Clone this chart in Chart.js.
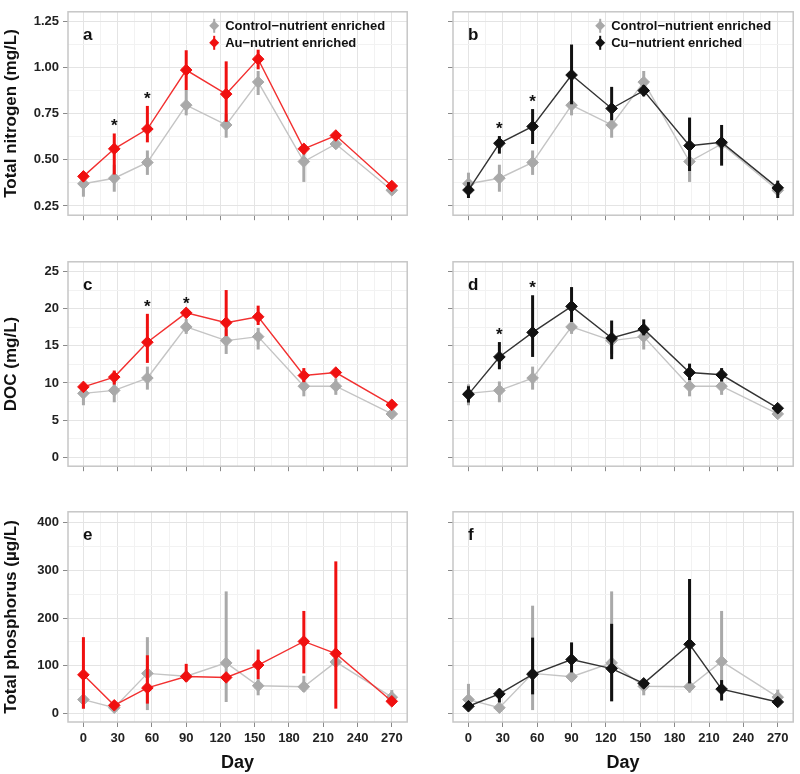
<!DOCTYPE html>
<html>
<head>
<meta charset="utf-8">
<script src="https://cdn.jsdelivr.net/npm/chart.js@4.4.0/dist/chart.umd.min.js"></script>
<style>
  body { margin: 0; background: #fff; }
  #wrap { position: relative; width: 800px; height: 774px; }
  canvas { position: absolute; }
</style>
</head>
<body>
<div id="wrap"></div>
<script>
// sampling days
const days = [0, 27, 56, 90, 125, 153, 193, 221, 270];
const dayTicks = [0, 30, 60, 90, 120, 150, 180, 210, 240, 270];

// total nitrogen (mg/L)
const ctrlN   = [0.37, 0.40, 0.485, 0.795, 0.688, 0.92, 0.49, 0.585, 0.335];
const ctrlNLo = [0.30, 0.327, 0.418, 0.74, 0.619, 0.85, 0.38, 0.56, 0.32];
const ctrlNHi = [0.43, 0.473, 0.55, 0.877, 0.748, 0.98, 0.56, 0.61, 0.35];
const auN     = [0.41, 0.559, 0.666, 0.985, 0.855, 1.044, 0.559, 0.631, 0.358];
const auNLo   = [0.40, 0.42, 0.594, 0.877, 0.705, 0.989, 0.53, 0.61, 0.345];
const auNHi   = [0.43, 0.642, 0.791, 1.092, 1.032, 1.095, 0.58, 0.65, 0.37];
const cuN     = [0.336, 0.589, 0.68, 0.958, 0.777, 0.874, 0.576, 0.594, 0.348];
const cuNLo   = [0.293, 0.533, 0.585, 0.80, 0.714, 0.843, 0.439, 0.468, 0.293];
const cuNHi   = [0.379, 0.628, 0.774, 1.123, 0.894, 0.903, 0.728, 0.688, 0.387];

// DOC (mg/L)
const ctrlDOC   = [8.6, 9.0, 10.66, 17.54, 15.7, 16.23, 9.56, 9.56, 5.83];
const ctrlDOCLo = [7.0, 7.4, 9.1, 16.6, 13.9, 14.5, 8.2, 8.4, 5.5];
const ctrlDOCHi = [9.8, 10.2, 12.2, 18.6, 17.2, 17.4, 10.7, 10.6, 6.2];
const auDOC     = [9.47, 10.79, 15.48, 19.43, 18.11, 18.9, 11.0, 11.4, 7.06];
const auDOCLo   = [9.1, 9.78, 12.7, 19.1, 16.3, 17.8, 10.1, 11.1, 6.8];
const auDOCHi   = [9.9, 11.67, 19.3, 19.7, 22.5, 20.4, 12.0, 11.7, 7.3];
const cuDOC     = [8.46, 13.5, 16.8, 20.3, 16.05, 17.24, 11.4, 11.1, 6.6];
const cuDOCLo   = [7.37, 11.84, 13.5, 18.2, 13.2, 16.4, 10.4, 10.2, 6.3];
const cuDOCHi   = [9.56, 15.5, 21.8, 22.9, 18.4, 18.55, 12.6, 12.0, 6.9];

// total phosphorus (µg/L)
const ctrlP    = [29, 12, 84, 78, 106, 58, 56, 108, 34];
const ctrlPLo  = [10, 8, 7, 72, 24, 38, 45, 103, 20];
const ctrlPHi  = [49, 16, 160, 84, 256, 72, 79, 120, 49];
const auP      = [81, 17, 53.5, 77.5, 75.5, 101.5, 151, 125.5, 25.4];
const auPLo    = [10, 12, 20.6, 67, 70, 72, 84, 10, 20];
const auPHi    = [160, 22, 122, 104, 81, 134, 215, 319, 30];
const ctrlPf   = [29, 12, 84, 77, 106, 57, 56, 109, 34];
const ctrlPfLo = [10, 8, 7, 70, 24, 38, 44, 45, 20];
const ctrlPfHi = [62, 16, 226, 85, 256, 72, 79, 215, 50];
const cuP      = [15, 41, 82, 113, 94, 63, 145, 51, 24];
const cuPLo    = [7, 23, 40, 86, 26, 55, 63, 27, 18];
const cuPHi    = [24, 51, 159, 149, 188, 70, 282, 70, 30];

const FONT = "'Liberation Sans', Arial, sans-serif";
const GRAY = "#a9a9a9", RED = "#f01010", BLACK = "#111111";

const toPts = (vals) => vals.map((v, i) => ({ x: days[i], y: v }));

function series(label, vals, lo, hi, kind) {
  const col = kind === "ctrl" ? GRAY : kind === "au" ? RED : BLACK;
  const line = kind === "ctrl" ? "#c4c4c4" : kind === "au" ? "#f23030" : "#333333";
  return {
    label, data: toPts(vals), lo, hi,
    barColor: col,
    borderColor: line, borderWidth: 1.4,
    backgroundColor: col, pointBackgroundColor: col, pointBorderColor: col,
    pointStyle: "rectRot", pointRadius: 5.8, pointBorderWidth: 1,
    tension: 0
  };
}

const isMajor = (v, step) => Math.abs(v / step - Math.round(v / step)) < 1e-6;
const range = (a, b, s) => { const r = []; for (let v = a; v <= b + 1e-9; v += s) r.push(+v.toFixed(4)); return r; };

const decor = {
  id: "decor",
  beforeDatasetDraw(chart, args) {
    const ds = chart.data.datasets[args.index];
    const { x, y } = chart.scales;
    const c = chart.ctx;
    c.save();
    c.strokeStyle = ds.barColor;
    c.lineWidth = 3;
    ds.data.forEach((p, i) => {
      const px = x.getPixelForValue(p.x);
      c.beginPath();
      c.moveTo(px, y.getPixelForValue(ds.lo[i]));
      c.lineTo(px, y.getPixelForValue(ds.hi[i]));
      c.stroke();
    });
    c.restore();
  },
  afterDraw(chart, args, opts) {
    const c = chart.ctx, a = chart.chartArea;
    const { x, y } = chart.scales;
    c.save();
    c.strokeStyle = "#c6c6c6";
    c.lineWidth = 1.5;
    c.strokeRect(a.left, a.top, a.right - a.left, a.bottom - a.top);
    c.fillStyle = "#111";
    c.font = "bold 17px " + FONT;
    c.textBaseline = "middle";
    c.fillText(opts.letter, a.left + 15, a.top + 24);
    // significance marks
    if (opts.stars) {
      const ds = chart.data.datasets[0];
      c.font = "bold 17px " + FONT;
      c.textAlign = "center";
      c.textBaseline = "alphabetic";
      opts.stars.forEach((d) => {
        const i = days.indexOf(d);
        c.fillText("*", x.getPixelForValue(d), y.getPixelForValue(ds.hi[i]) - 2);
      });
    }
    // legend
    if (opts.legend) {
      const lx = a.right - 193;
      const items = [chart.data.datasets[1], chart.data.datasets[0]];
      items.forEach((ds, k) => {
        const ly = a.top + 14 + k * 17;
        c.strokeStyle = ds.barColor;
        c.lineWidth = 2;
        c.beginPath(); c.moveTo(lx, ly - 7); c.lineTo(lx, ly + 7); c.stroke();
        c.fillStyle = ds.barColor;
        c.beginPath();
        c.moveTo(lx, ly - 5); c.lineTo(lx + 5, ly); c.lineTo(lx, ly + 5); c.lineTo(lx - 5, ly);
        c.closePath(); c.fill();
        c.fillStyle = "#111";
        c.font = "bold 13px " + FONT;
        c.textAlign = "left";
        c.textBaseline = "middle";
        c.fillText(ds.label, lx + 11, ly + 1);
      });
    }
    c.restore();
  }
};

function makePanel(cfg) {
  const cv = document.createElement("canvas");
  cv.width = cfg.w; cv.height = cfg.h;
  cv.style.left = cfg.left + "px"; cv.style.top = cfg.top + "px";
  document.getElementById("wrap").appendChild(cv);

  const leftCol = cfg.left === 0;
  const bottomRow = cfg.bottom;

  new Chart(cv.getContext("2d"), {
    type: "line",
    data: { datasets: cfg.datasets },
    options: {
      responsive: false,
      animation: false,
      devicePixelRatio: 1,
      layout: { padding: { top: cfg.padTop, right: cfg.padRight, left: 0, bottom: 0 } },
      plugins: {
        legend: { display: false },
        tooltip: { enabled: false },
        decor: { letter: cfg.letter, stars: cfg.stars, legend: cfg.showLegend }
      },
      scales: {
        x: {
          type: "linear", min: -13.5, max: 283.5,
          afterBuildTicks: (s) => { s.ticks = range(0, 270, 15).map((v) => ({ value: v })); },
          afterFit: (s) => { s.height = bottomRow ? 52 : 10; },
          grid: {
            color: (ctx) => isMajor(ctx.tick.value, 30) ? "#e4e4e4" : "#f2f2f2",
            tickColor: (ctx) => isMajor(ctx.tick.value, 30) ? "#8a8a8a" : "rgba(0,0,0,0)",
            tickLength: 5, lineWidth: 1
          },
          border: { display: false },
          ticks: {
            autoSkip: false, maxRotation: 0, padding: 4,
            color: "#222", font: { family: FONT, size: 13, weight: "bold" },
            callback: (v) => (bottomRow && dayTicks.includes(v)) ? String(v) : ""
          },
          title: {
            display: bottomRow, text: "Day", color: "#111",
            font: { family: FONT, size: 18, weight: "bold" }, padding: { top: 0, bottom: 0 }
          }
        },
        y: {
          type: "linear", min: cfg.yMin, max: cfg.yMax,
          afterBuildTicks: (s) => { s.ticks = range(cfg.tickMin, cfg.tickMax, cfg.major / 2).map((v) => ({ value: v })); },
          afterFit: (s) => { s.width = leftCol ? 68 : 53; },
          grid: {
            color: (ctx) => isMajor(ctx.tick.value, cfg.major) ? "#e4e4e4" : "#f2f2f2",
            tickColor: (ctx) => isMajor(ctx.tick.value, cfg.major) ? "#8a8a8a" : "rgba(0,0,0,0)",
            tickLength: 5, lineWidth: 1
          },
          border: { display: false },
          ticks: {
            autoSkip: false, padding: 4,
            color: "#222", font: { family: FONT, size: 13, weight: "bold" },
            callback: (v) => (leftCol && isMajor(v, cfg.major)) ? v.toFixed(cfg.dec) : ""
          },
          title: {
            display: leftCol, text: cfg.yTitle, color: "#111",
            font: { family: FONT, size: 17, weight: "bold" }, padding: { top: 1, bottom: 0 }
          }
        }
      }
    },
    plugins: [decor]
  });
}

const nAxis = { yMin: 0.2, yMax: 1.30, tickMin: 0.25, tickMax: 1.25, major: 0.25, dec: 2, yTitle: "Total nitrogen (mg/L)" };
const docAxis = { yMin: -1.2, yMax: 26.3, tickMin: 0, tickMax: 25, major: 5, dec: 0, yTitle: "DOC (mg/L)" };
const pAxis = { yMin: -18, yMax: 423, tickMin: 0, tickMax: 400, major: 100, dec: 0, yTitle: "Total phosphorus (µg/L)" };

const row1 = { top: 0, h: 227, padTop: 3, bottom: false };
const row2 = { top: 250, h: 228, padTop: 9, bottom: false };
const row3 = { top: 500, h: 274, padTop: 8, bottom: true };
const colL = { left: 0, w: 414, padRight: 2 };
const colR = { left: 400, w: 400, padRight: 5 };

makePanel({ ...row1, ...colL, ...nAxis, letter: "a", stars: [27, 56], showLegend: true,
  datasets: [series("Au\u2212nutrient enriched", auN, auNLo, auNHi, "au"),
             series("Control\u2212nutrient enriched", ctrlN, ctrlNLo, ctrlNHi, "ctrl")] });
makePanel({ ...row1, ...colR, ...nAxis, letter: "b", stars: [27, 56], showLegend: true,
  datasets: [series("Cu\u2212nutrient enriched", cuN, cuNLo, cuNHi, "cu"),
             series("Control\u2212nutrient enriched", ctrlN, ctrlNLo, ctrlNHi, "ctrl")] });
makePanel({ ...row2, ...colL, ...docAxis, letter: "c", stars: [56, 90],
  datasets: [series("Au\u2212nutrient enriched", auDOC, auDOCLo, auDOCHi, "au"),
             series("Control\u2212nutrient enriched", ctrlDOC, ctrlDOCLo, ctrlDOCHi, "ctrl")] });
makePanel({ ...row2, ...colR, ...docAxis, letter: "d", stars: [27, 56],
  datasets: [series("Cu\u2212nutrient enriched", cuDOC, cuDOCLo, cuDOCHi, "cu"),
             series("Control\u2212nutrient enriched", ctrlDOC, ctrlDOCLo, ctrlDOCHi, "ctrl")] });
makePanel({ ...row3, ...colL, ...pAxis, letter: "e",
  datasets: [series("Au\u2212nutrient enriched", auP, auPLo, auPHi, "au"),
             series("Control\u2212nutrient enriched", ctrlP, ctrlPLo, ctrlPHi, "ctrl")] });
makePanel({ ...row3, ...colR, ...pAxis, letter: "f",
  datasets: [series("Cu\u2212nutrient enriched", cuP, cuPLo, cuPHi, "cu"),
             series("Control\u2212nutrient enriched", ctrlPf, ctrlPfLo, ctrlPfHi, "ctrl")] });
</script>
</body>
</html>
